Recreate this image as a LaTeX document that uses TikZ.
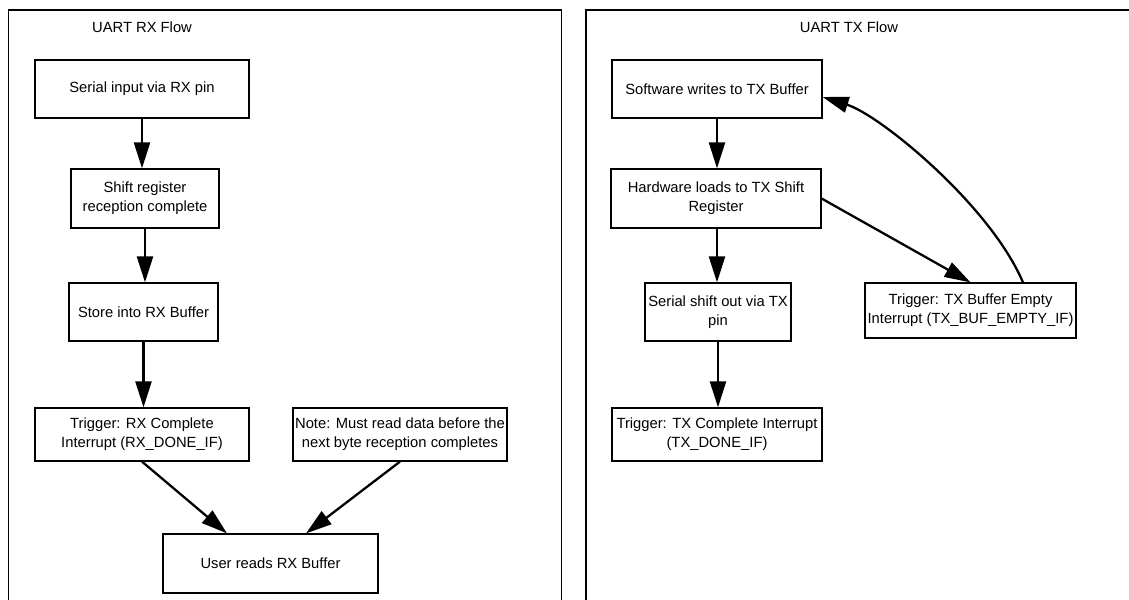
\documentclass[tikz,border=0pt]{standalone}
\usepackage{fontspec}
\setmainfont{Liberation Sans}
\usepackage{tikz}
\usetikzlibrary{arrows.meta}

\begin{document}
\begin{tikzpicture}[x=0.02cm, y=-0.02cm, font=\fontsize{8.4}{10.8}\selectfont,
  box/.style={draw, line width=0.7pt, align=center, inner sep=1pt},
  flow/.style={line width=1.3pt, -{Triangle[length=0.52cm, width=0.32cm]}}]

\useasboundingbox (0,0) rectangle (1129,599);

\draw[line width=0.7pt] (8.5,600) -- (8.5,10) -- (561.5,10) -- (561.5,600);
\draw[line width=0.7pt] (586,600) -- (586,10) -- (1130,10);
\node (rxtitle) at (142,27) {UART RX Flow};
\node (txtitle) at (849,27) {UART TX Flow};

\node[box, minimum width=4.28cm, minimum height=1.16cm] (rxin) at (142,89) {Serial input via RX pin};
\node[box, minimum width=2.96cm, minimum height=1.18cm] (rxshift) at (145,198.5) {Shift register\\reception complete};
\node[box, minimum width=2.98cm, minimum height=1.16cm] (rxstore) at (143.5,312) {Store into RX Buffer};
\node[box, minimum width=4.28cm, minimum height=1.06cm] (rxirq) at (142,434.5) {Trigger: RX Complete\\Interrupt (RX\_DONE\_IF)};
\node[box, minimum width=4.28cm, minimum height=1.06cm] (rxnote) at (400,434.5) {Note: Must read data before the\\next byte reception completes};
\node[box, minimum width=4.3cm, minimum height=1.18cm] (rxread) at (270.5,563.5) {User reads RX Buffer};

\draw[flow] (rxin) -- (rxin |- rxshift.north);
\draw[flow] (rxshift) -- (rxshift |- rxstore.north);
\draw[flow] (rxstore) -- (rxstore |- rxirq.north);
\draw[flow] (rxirq.south) -- ([xshift=-0.87cm]rxread.north);
\draw[flow] (rxnote.south) -- ([xshift=0.71cm]rxread.north);

\node[box, minimum width=4.2cm, minimum height=1.16cm] (txwrite) at (717,89) {Software writes to TX Buffer};
\node[box, minimum width=4.2cm, minimum height=1.18cm] (txload) at (716,198.5) {Hardware loads to TX Shift\\Register};
\node[box, minimum width=2.92cm, minimum height=1.16cm] (txshift) at (718,312) {Serial shift out via TX\\pin};
\node[box, minimum width=4.2cm, minimum height=1.06cm] (txdone) at (717,434.5) {Trigger: TX Complete Interrupt\\(TX\_DONE\_IF)};
\node[box, minimum width=4.22cm, minimum height=1.1cm] (txempty) at (970.5,310.5) {Trigger: TX Buffer Empty\\Interrupt (TX\_BUF\_EMPTY\_IF)};

\draw[flow] (txwrite) -- (txwrite |- txload.north);
\draw[flow] ([xshift=0.02cm]txload.south) -- ([xshift=0.02cm]txload.south |- txshift.north);
\draw[flow] (txshift) -- (txshift |- txdone.north);
\draw[flow] (txload.east) -- (txempty.north);
\draw[flow] ([xshift=1.05cm]txempty.north) .. controls (990,205) and (880,115) .. ([yshift=-0.16cm]txwrite.east);

\end{tikzpicture}
\end{document}
